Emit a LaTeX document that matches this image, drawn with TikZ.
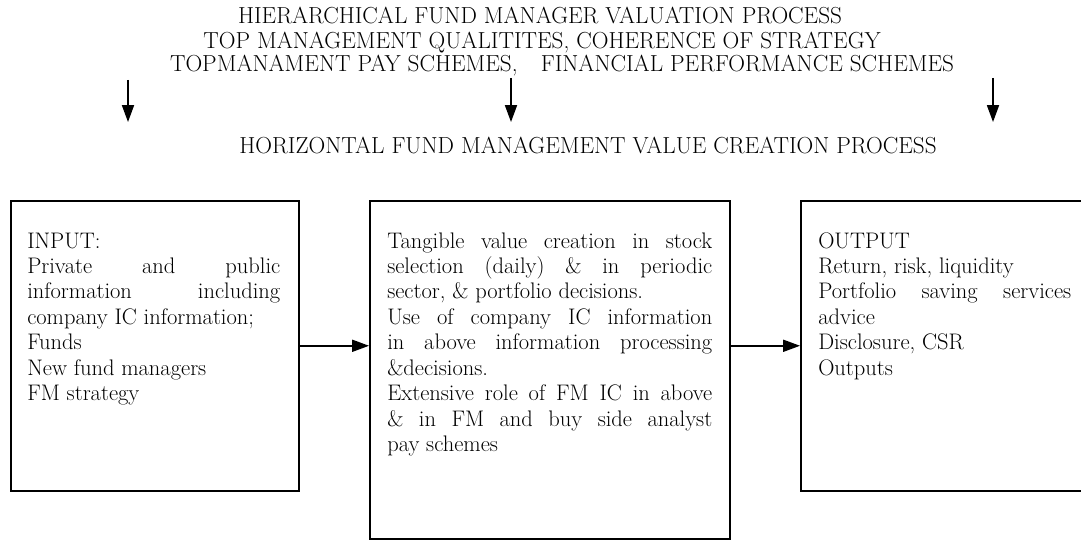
\documentclass[tikz,border=0pt]{standalone}
\usepackage{xcolor}
\usepackage{tikz}
\usetikzlibrary{arrows.meta}
\newcommand{\headfont}{\fontsize{16.5pt}{19pt}\selectfont}
\newcommand{\boxfont}{\fontsize{16pt}{18.1pt}\selectfont}
\tikzset{
  stagebox/.style={draw, line width=1.1pt, anchor=north west, inner sep=0pt, minimum width=7.2cm, minimum height=7.25cm},
  boxtext/.style={anchor=base west, inner sep=0pt, align=justify, font=\boxfont},
  headtext/.style={anchor=base, inner sep=0pt, font=\headfont},
  flow/.style={line width=1.1pt, -{Triangle[length=0.42cm,width=0.3cm]}}
}

\begin{document}
\begin{tikzpicture}
                \useasboundingbox (0,0) rectangle (27.025,13.5);

                % Hierarchical level
                \node[headtext] (hier) at (13.5,12.9) {HIERARCHICAL FUND MANAGER VALUATION PROCESS};
                \node[headtext] (quality) at (13.55,12.275) {TOP MANAGEMENT QUALITITES, COHERENCE OF STRATEGY};
                \node[headtext] (pay) at (14.05,11.7) {TOPMANAMENT PAY SCHEMES,\hspace{1em}FINANCIAL PERFORMANCE SCHEMES};

                % Arrows down
                \coordinate (down1) at (3.2,11.5);
                \coordinate (down1end) at (3.2,10.45);
                \coordinate (down2) at (12.775,11.55);
                \coordinate (down2end) at (12.775,10.45);
                \coordinate (down3) at (24.825,11.55);
                \coordinate (down3end) at (24.825,10.45);
                \draw[flow] (down1) -- (down1end);
                \draw[flow] (down2) -- (down2end);
                \draw[flow] (down3) -- (down3end);

                % Horizontal level
                \node[headtext] (horiz) at (14.7,9.675) {HORIZONTAL FUND MANAGEMENT VALUE CREATION PROCESS};

                % Boxes
                \node[stagebox] (input) at (0.25,8.5) {};
                \node[stagebox, minimum width=9cm, minimum height=8.45cm] (core) at (9.225,8.5) {};
                \node[stagebox] (output) at (20.0,8.5) {};

                % Box texts
                \node[boxtext, text width=6.325cm] (inputtxt) at (0.675,7.3) {INPUT:\\
                  Private and public\linebreak information including\linebreak company IC information;\\
                  Funds\\
                  New fund managers\\
                  FM strategy};
                \node[boxtext, text width=8.125cm] (coretxt) at (9.675,7.3) {Tangible value creation in stock\linebreak
                  selection (daily) \& in periodic\linebreak sector, \& portfolio decisions.\\
                  Use of company IC information\linebreak in above information processing\linebreak \&decisions.\\
                  Extensive role of FM IC in above\linebreak \& in FM and buy side analyst\linebreak pay schemes};
                \node[boxtext, text width=6.325cm] (outputtxt) at (20.45,7.3) {OUTPUT\\
                  Return, risk, liquidity\\
                  Portfolio saving services\linebreak advice\\
                  Disclosure, CSR\\
                  Outputs};

                % Flow between boxes
                \draw[flow] (input.east) -- (input.east -| core.west);
                \draw[flow] (input.east -| core.east) -- (input.east -| output.west);
\end{tikzpicture}
\end{document}
